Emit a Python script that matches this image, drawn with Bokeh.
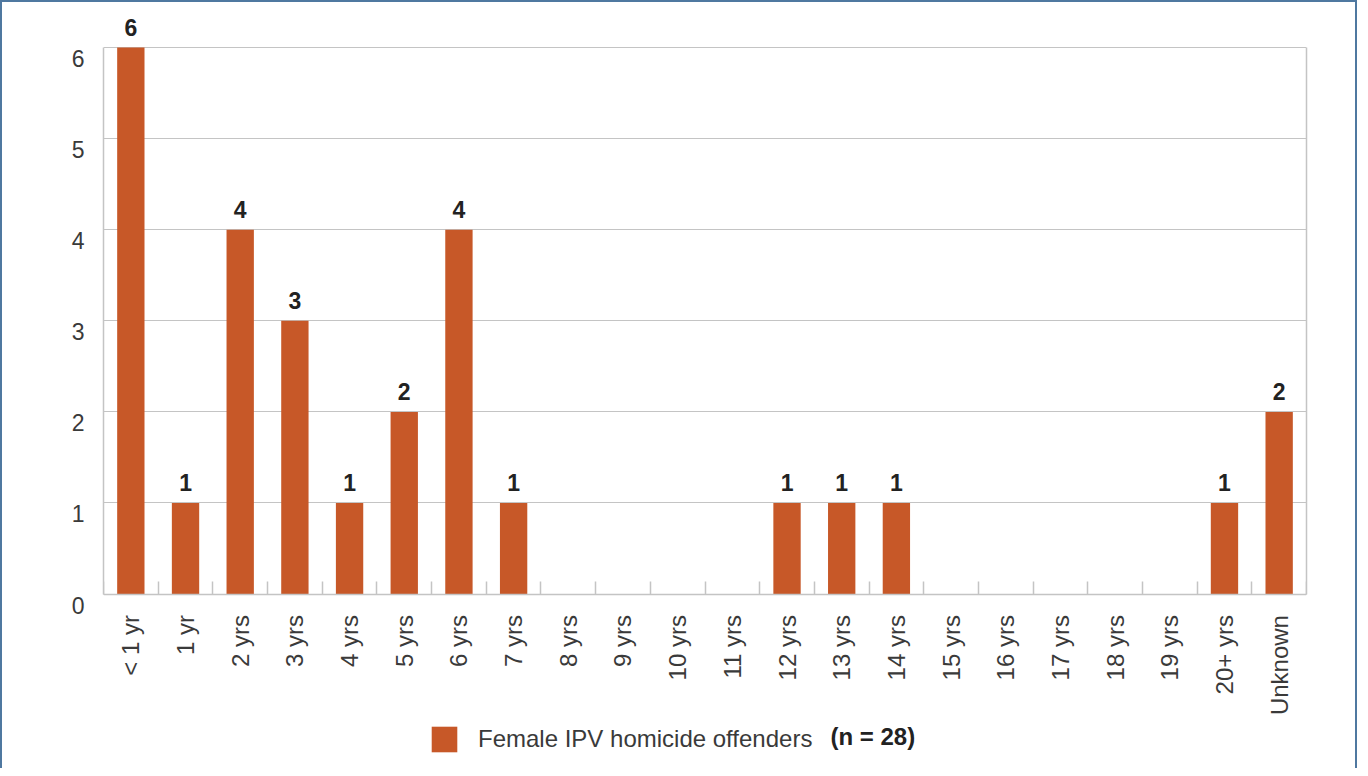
import math
from bokeh.plotting import figure
from bokeh.models import Range1d, FixedTicker, Legend, LegendItem, Label, LinearAxis
from bokeh.core.properties import value
from bokeh.embed import file_html
from bokeh.resources import INLINE

categories = ["< 1 yr", "1 yr", "2 yrs", "3 yrs", "4 yrs", "5 yrs", "6 yrs", "7 yrs",
              "8 yrs", "9 yrs", "10 yrs", "11 yrs", "12 yrs", "13 yrs", "14 yrs",
              "15 yrs", "16 yrs", "17 yrs", "18 yrs", "19 yrs", "20+ yrs", "Unknown"]
counts = [6, 1, 4, 3, 1, 2, 4, 1, 0, 0, 0, 0, 1, 1, 1, 0, 0, 0, 0, 0, 1, 2]
y_ticks = [0, 1, 2, 3, 4, 5, 6]
series_name = "Female IPV homicide offenders"
n_note = "(n = 28)"

BAR = "#c75828"
GRID = "#c4c4c4"
TXT = "#3a3a3a"
FONT = "Liberation Sans"

# layout constants (pixels)
W, H = 1357, 768
CANVAS_H = H - 2
Y_TOP_PX, Y_ZERO_PX = 45, 590          # canvas y of value 6 and value 0
ppu = (Y_ZERO_PX - Y_TOP_PX) / max(y_ticks)
y_hi = max(y_ticks) + Y_TOP_PX / ppu
y_lo = -(CANVAS_H - Y_ZERO_PX) / ppu
lab_shift = 11 / ppu

n = len(categories)
centers = [i + 0.5 for i in range(n)]

p = figure(width=W, height=H, output_backend="svg", toolbar_location=None,
           x_range=Range1d(0, n), y_range=Range1d(y_lo, y_hi),
           min_border_left=101, min_border_top=0, min_border_right=53, min_border_bottom=0)
p.extra_y_ranges = {"lab": Range1d(y_lo + lab_shift, y_hi + lab_shift)}
p.styles = {"border-left": "2px solid #4f78a0", "border-top": "2px solid #4f78a0",
            "border-right": "2px solid #4f78a0"}
p.background_fill_color = "white"
p.border_fill_color = "white"
p.outline_line_color = None

bars = p.vbar(x=centers, top=counts, width=0.5, bottom=0, color=BAR, line_color=None)

lab_x = [c for c, v in zip(centers, counts) if v > 0]
lab_y = [v for v in counts if v > 0]
lab_t = [str(v) for v in counts if v > 0]
p.text(x=lab_x, y=lab_y, text=lab_t, text_align="center", text_baseline="alphabetic",
       y_offset=-20, text_font=value(FONT), text_font_style="bold",
       text_font_size="23px", text_color="#222222")

# x axis, drawn at value 0
xa = p.xaxis[0]
xa.fixed_location = 0
xa.ticker = FixedTicker(ticks=centers, minor_ticks=list(range(n + 1)))
xa.major_label_overrides = {c: lab for c, lab in zip(centers, categories)}
xa.major_label_orientation = math.pi / 2
xa.major_tick_line_color = None
xa.major_tick_out = 0
xa.major_tick_in = 0
xa.minor_tick_in = 13
xa.minor_tick_out = 0
xa.minor_tick_line_color = GRID
xa.minor_tick_line_width = 1.5
xa.axis_line_color = GRID
xa.axis_line_width = 1.5
xa.major_label_standoff = 21
xa.major_label_text_font = FONT
xa.major_label_text_font_size = "24px"
xa.major_label_text_color = TXT

# left axis line (0..6)
ya = p.yaxis[0]
ya.ticker = FixedTicker(ticks=[])
ya.bounds = (0, max(y_ticks))
ya.major_tick_out = 0
ya.major_tick_in = 0
ya.major_label_standoff = 0
ya.minor_tick_line_color = None
ya.axis_line_color = GRID
ya.axis_line_width = 1.5

# left tick labels
yl = LinearAxis(y_range_name="lab", ticker=FixedTicker(ticks=y_ticks))
yl.axis_line_color = None
yl.major_tick_line_color = None
yl.minor_tick_line_color = None
yl.major_tick_out = 0
yl.major_tick_in = 0
yl.major_label_standoff = 19
yl.major_label_text_font = FONT
yl.major_label_text_font_size = "23px"
yl.major_label_text_color = TXT
p.add_layout(yl, "left")

# right frame edge
yr = LinearAxis(ticker=FixedTicker(ticks=[]), bounds=(0, max(y_ticks)))
yr.axis_line_color = GRID
yr.axis_line_width = 1.5
yr.major_tick_out = 0
yr.major_tick_in = 0
yr.major_label_standoff = 0
yr.minor_tick_line_color = None
p.add_layout(yr, "right")

p.xgrid.grid_line_color = None
p.ygrid.ticker = FixedTicker(ticks=y_ticks)
p.ygrid.grid_line_color = GRID
p.ygrid.grid_line_width = 1.2

legend = Legend(items=[LegendItem(label=series_name, renderers=[bars])],
                location=(325, 15), orientation="horizontal",
                padding=0, margin=0, spacing=0,
                glyph_width=32, glyph_height=32, label_standoff=18, label_height=26,
                label_text_font=FONT, label_text_font_size="24px",
                label_text_color=TXT, border_line_color=None,
                background_fill_alpha=0)
p.add_layout(legend, "center")

note = Label(x=727, y=34, x_units="screen", y_units="screen", text=n_note,
             text_font=FONT, text_font_style="bold", text_font_size="24px",
             text_color="#222222", text_baseline="middle")
p.add_layout(note)

open("out.html", "w").write(file_html(p, INLINE))
